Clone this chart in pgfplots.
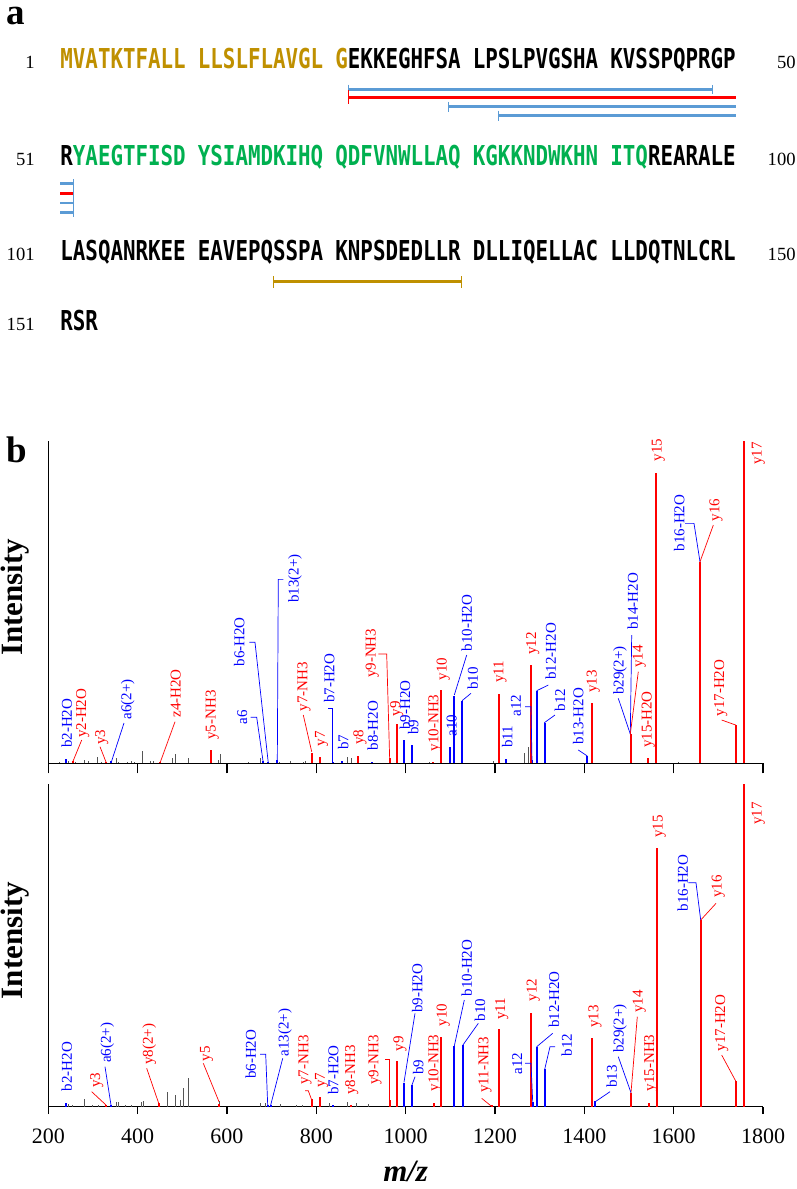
\documentclass[border=0pt]{standalone}
\usepackage{pgfplots}
\pgfplotsset{compat=1.18}
\usepackage{fontspec}
\setmainfont{Liberation Serif}
\newfontfamily\seqfont{DejaVu Sans Mono}[FakeStretch=0.76]
\definecolor{seqgold}{RGB}{191,144,0}
\definecolor{seqgreen}{RGB}{0,176,80}
\definecolor{covblue}{RGB}{91,155,213}
\definecolor{pkgray}{RGB}{85,85,85}
\newcommand\lblfont{\fontsize{7.5}{7.5}\selectfont}
% label / leader helpers: pixel positions of the reference, mapped into axis cs
\newcommand\lb[4]{\node[rotate=90,anchor=west,inner sep=0pt,text=#1,font=\lblfont] at (axis cs:{200+(#2-48.3)*2.2387},{(\base-#3)/3.225}) {#4};}
\newcommand\ld[5]{\draw[#1,line width=0.35pt] (axis cs:{200+(#2-48.3)*2.2387},{(\base-#3)/3.225}) -- (axis cs:{200+(#4-48.3)*2.2387},{(\base-#5)/3.225});}
\newcommand\ldd[7]{\draw[#1,line width=0.35pt] (axis cs:{200+(#2-48.3)*2.2387},{(\base-#3)/3.225}) -- (axis cs:{200+(#4-48.3)*2.2387},{(\base-#5)/3.225}) -- (axis cs:{200+(#6-48.3)*2.2387},{(\base-#7)/3.225});}
\newcommand\sq[3]{\node[anchor=base west,inner sep=0pt,font=\seqfont\bfseries\fontsize{13.7}{14}\selectfont] at (axis cs:#1,#2) {#3};}
\newcommand\num[4]{\node[anchor=base #1,inner sep=0pt,font=\fontsize{9.3}{9.3}\selectfont] at (axis cs:#2,#3) {#4};}

\pgfplotsset{spec/.style={scale only axis, width=357.35pt, height=161.2pt,
  xmin=200, xmax=1800, ymin=0, ymax=100, axis lines*=left, ytick=\empty,
  xtick={200,400,...,1800}, tick align=outside, clip=false,
  axis line style={line width=0.65pt}, every tick/.style={black,line width=0.65pt},
  ylabel={Intensity},
  ylabel style={font=\bfseries\fontsize{15.5}{15.5}\selectfont, at={(axis description cs:-0.0462,0.515)}, anchor=center}}}

\begin{document}
\begin{tikzpicture}[x=0.5pt,y=-0.5pt]
\path[use as bounding box] (0,0) rectangle (797,1189);

% ---------------- panel a ----------------
\begin{axis}[at={(0pt,0pt)}, anchor=north west, scale only axis, width=398.5pt, height=175pt,
  xmin=0, xmax=797, ymin=0, ymax=350, y dir=reverse, hide axis, clip=false]
\node[anchor=base west,inner sep=0pt,font=\bfseries\fontsize{18.5}{18.5}\selectfont] at (axis cs:6.5,24.5) {a};
% row 1
\num{east}{35}{68}{1}
\sq{60}{68}{\textcolor{seqgold}{MVATKTFALL}}
\sq{197.5}{68}{\textcolor{seqgold}{LLSLFLAVGL}}
\sq{335}{68}{\textcolor{seqgold}{G}EKKEGHFSA}
\sq{472.5}{68}{LPSLPVGSHA}
\sq{610}{68}{KVSSPQPRGP}
\num{east}{796}{68}{50}
% row 2
\num{east}{35}{165}{51}
\sq{60}{165}{R\textcolor{seqgreen}{YAEGTFISD}}
\sq{197.5}{165}{\textcolor{seqgreen}{YSIAMDKIHQ}}
\sq{335}{165}{\textcolor{seqgreen}{QDFVNWLLAQ}}
\sq{472.5}{165}{\textcolor{seqgreen}{KGKKNDWKHN}}
\sq{610}{165}{\textcolor{seqgreen}{ITQ}REARALE}
\num{east}{796}{165}{100}
% row 3
\num{east}{35}{260}{101}
\sq{60}{260}{LASQANRKEE}
\sq{197.5}{260}{EAVEPQSSPA}
\sq{335}{260}{KNPSDEDLLR}
\sq{472.5}{260}{DLLIQELLAC}
\sq{610}{260}{LLDQTNLCRL}
\num{east}{796}{260}{150}
% row 4
\num{east}{35}{330}{151}
\sq{60}{330}{RSR}
% coverage bars
\addplot[covblue, line width=1.35pt] coordinates {(348,89.3) (712,89.3)};
\addplot[red, line width=1.65pt] coordinates {(348,97.7) (736,97.7)};
\addplot[covblue, line width=1.35pt] coordinates {(448.7,106.7) (736,106.7)};
\addplot[covblue, line width=1.35pt] coordinates {(498.7,115.7) (736,115.7)};
\addplot[covblue, line width=0.4pt] coordinates {(348,84.5) (348,94)};
\addplot[covblue, line width=0.4pt] coordinates {(712,85) (712,93.5)};
\addplot[red, line width=0.4pt] coordinates {(348,90) (348,104)};
\addplot[covblue, line width=0.4pt] coordinates {(448.7,101.5) (448.7,112)};
\addplot[covblue, line width=0.4pt] coordinates {(498.7,110.5) (498.7,121)};
\addplot[covblue, line width=1.35pt] coordinates {(60,183.5) (73,183.5)};
\addplot[red, line width=1.35pt] coordinates {(60,193.3) (73,193.3)};
\addplot[covblue, line width=1.35pt] coordinates {(60,203) (73,203)};
\addplot[covblue, line width=1.35pt] coordinates {(60,212.5) (73,212.5)};
\addplot[covblue, line width=0.4pt] coordinates {(73,179) (73,217)};
\addplot[seqgold, line width=1.6pt] coordinates {(273.3,281.7) (461,281.7)};
\addplot[seqgold, line width=0.4pt] coordinates {(273.3,276) (273.3,288)};
\addplot[seqgold, line width=0.4pt] coordinates {(461,276) (461,288)};
\end{axis}

\node[anchor=base west,inner sep=0pt,font=\bfseries\fontsize{18.5}{18.5}\selectfont] at (6.5,462) {b};

% ---------------- panel b, top spectrum ----------------
\def\base{763.3}
\begin{axis}[spec, at={(24.15pt,-381.65pt)}, anchor=south west, xticklabels={}, major tick length=5pt]
\addplot[ycomb, no marks, pkgray, line width=0.5pt] coordinates {
(224,0.4) (245,0.6) (262,0.5) (282,1.0) (290,0.6) (309.8,2.0) (318,0.5) (351.6,1.5)
(357.5,0.4) (378,0.4) (386,0.6) (392,0.5) (410.6,3.8) (428,0.7) (436,0.6) (477.7,1.5)
(483.8,2.8) (513.6,1.8) (581,1.0) (585,2.9) (648,0.4) (676,1.8) (718,0.5) (742.8,0.6)
(771,0.5) (776,0.7) (870.5,2.0) (879.5,1.5) (1053,0.5) (1196.7,0.8) (1265,3.3) (1275,5.0) (1611,0.3)};
\addplot[ycomb, no marks, blue, line width=1pt] coordinates {
(239.6,1.2) (340.6,0.6) (681.6,0.6) (691,0.5) (712.9,1.0) (837,0.5) (857,0.7) (925.7,0.4)
(996.7,7.2) (1015.3,5.7) (1099.6,5.2) (1109,21.0) (1126.5,19.4) (1225,1.3) (1283,1.0)
(1293.8,22.5) (1311,12.6) (1407,2.3)};
\addplot[ycomb, no marks, red, line width=1pt] coordinates {
(254.6,0.6) (329,0.5) (450,0.5) (564,4.1) (790,3.3) (808,2.0) (893.6,2.3) (964.6,1.5)
(981.7,12.2) (1062,0.5) (1080,22.7) (1209.4,21.6) (1279.6,30.6) (1417,18.6) (1503.5,9.1)
(1543,1.5) (1561,90.2) (1659.6,62.4) (1739.5,11.9) (1757.4,100)};
\lb{blue}{66.7}{748.3}{b2-H2O}
\lb{red}{82.7}{738.3}{y2-H2O} \ld{red}{72.7}{762}{81.7}{740}
\lb{red}{101.7}{745}{y3} \ld{red}{106}{762}{100}{746.7}
\lb{blue}{127.7}{720}{a6(2+)} \ld{blue}{111}{763}{124}{723}
\lb{red}{175.7}{718}{z4-H2O} \ld{red}{160}{763}{175}{721.7}
\lb{red}{212.3}{740}{y5-NH3}
\lb{blue}{242.3}{725}{a6} \ldd{blue}{250.7}{717.3}{256.7}{717.3}{263.3}{763}
\lb{blue}{239.3}{666.7}{b6-H2O} \ldd{blue}{249.3}{642.3}{255}{642.3}{268.3}{763}
\lb{blue}{295}{603.3}{b13(2+)} \ldd{blue}{283.3}{579.3}{278.3}{579.3}{277.3}{763}
\lb{red}{304}{711.7}{y7-NH3} \ld{red}{303.3}{715}{311.7}{751.7}
\lb{red}{321.7}{746.7}{y7}
\lb{blue}{329.3}{703.3}{b7-H2O} \ldd{blue}{328.3}{708.3}{332.7}{708.3}{332.7}{763}
\lb{blue}{343.3}{750}{b7}
\lb{red}{360}{745}{y8}
\lb{blue}{372.7}{750.7}{b8-H2O}
\lb{red}{372.3}{678.3}{y9-NH3} \ldd{red}{378.3}{654}{386.7}{654}{389.7}{760}
\lb{red}{396.7}{716.7}{y9}
\lb{blue}{405}{730}{b9-H2O}
\lb{blue}{413.3}{735}{b9}
\lb{red}{435}{751.7}{y10-NH3}
\lb{red}{443.3}{680.7}{y10}
\lb{blue}{451.7}{736.7}{a10}
\lb{blue}{466.7}{651.7}{b10-H2O} \ld{blue}{466.7}{655}{454.3}{695}
\lb{blue}{472.7}{690}{b10} \ld{blue}{471}{693.3}{462}{700.7}
\lb{red}{500}{683.3}{y11}
\lb{blue}{507.3}{748.3}{b11}
\lb{blue}{516}{716.7}{a12} \ldd{blue}{525}{706.7}{531}{706.7}{532}{761.7}
\lb{red}{532.7}{655}{y12}
\lb{blue}{550.7}{680}{b12-H2O} \ld{blue}{548.3}{685}{536.7}{690.7}
\lb{blue}{560}{711.7}{b12} \ld{blue}{555}{715}{544.3}{722.7}
\lb{blue}{578.3}{745}{b13-H2O} \ld{blue}{578.3}{750}{587.3}{756}
\lb{red}{593.3}{693.3}{y13}
\lb{blue}{620}{695}{b29(2+)} \ld{blue}{618.3}{698.3}{630.3}{734}
\lb{blue}{632.7}{630}{b14-H2O} \ld{blue}{631.7}{635}{630.3}{734}
\lb{red}{639.3}{668.3}{y14} \ld{red}{638.3}{671.7}{630.3}{734}
\lb{red}{648.3}{748.3}{y15-H2O}
\lb{red}{658.3}{461.7}{y15}
\lb{blue}{679.3}{551.7}{b16-H2O} \ldd{blue}{685}{523.3}{694}{523.3}{700}{561.7}
\lb{red}{716}{521.7}{y16} \ld{red}{713.3}{525}{700}{561.7}
\lb{red}{720.7}{716.7}{y17-H2O} \ld{red}{721.7}{720}{735.7}{725}
\lb{red}{758.3}{465}{y17}
\end{axis}

% ---------------- panel b, bottom spectrum ----------------
\def\base{1106.7}
\begin{axis}[spec, at={(24.15pt,-553.35pt)}, anchor=south west, major tick length=3.7pt,
  /pgf/number format/assume math mode=true, /pgf/number format/1000 sep={},
  xticklabel style={font=\fontsize{11}{11}\selectfont, yshift=-4pt},
  xlabel={\textbf{\textit{m/z}}},
  xlabel style={font=\fontsize{15.5}{15.5}\selectfont, at={(axis description cs:0.5,-0.232)}, anchor=base}]
\addplot[ycomb, no marks, pkgray, line width=0.5pt] coordinates {
(244.8,0.8) (254.6,0.5) (281.5,2.3) (300,0.5) (312,0.6) (351.6,1.5) (357.5,1.5) (372,0.5)
(386.7,0.4) (409,1.5) (412.8,1.9) (467.4,4.6) (485.3,3.6) (495,2.0) (503.2,5.7) (514.4,8.8)
(582.3,1.9) (676,1.2) (685.5,1.0) (718.9,0.8) (755,0.4) (770,0.4) (828.6,1.3) (870.5,1.5)
(889.9,1.3) (916.8,0.7)};
\addplot[ycomb, no marks, blue, line width=1pt] coordinates {
(239.6,1.3) (340.6,0.6) (691,0.4) (698,0.6) (837,0.4) (996.7,7.5) (1015.3,6.7) (1109,18.8)
(1128,19.0) (1284,1.5) (1293.8,18.6) (1311,11.6) (1425,1.8)};
\addplot[ycomb, no marks, red, line width=1pt] coordinates {
(329,0.5) (447.2,1.3) (582.3,0.8) (790,2.3) (808,2.9) (877.3,0.5) (964.6,2.0) (981.7,14.2)
(1064.5,1.0) (1080,21.7) (1193.7,0.5) (1209.4,24.2) (1279.6,29.2) (1417.7,21.2) (1505,4.3)
(1543.7,1.2) (1561.7,80.3) (1661,57.9) (1739.5,8.0) (1758,100)};
\lb{blue}{66.7}{1091.7}{b2-H2O}
\lb{red}{96.7}{1088.3}{y3} \ld{red}{91.7}{1091.7}{106}{1105}
\lb{blue}{107.3}{1063.3}{a6(2+)} \ld{blue}{105}{1066.7}{111}{1105}
\lb{red}{149.3}{1065}{y8(2+)} \ld{red}{146.7}{1068.3}{158.7}{1103.3}
\lb{red}{206.7}{1061.7}{y5} \ld{red}{203.3}{1063.3}{219}{1101.7}
\lb{blue}{250.7}{1079.3}{b6-H2O} \ldd{blue}{260}{1054.3}{265.7}{1054.3}{267.7}{1105}
\lb{blue}{285}{1056.7}{a13(2+)} \ld{blue}{282.7}{1058.3}{270.7}{1105}
\lb{red}{305}{1085}{y7-NH3} \ldd{red}{305}{1090.7}{308.3}{1090.7}{311.7}{1100}
\lb{red}{321.7}{1088.3}{y7}
\lb{blue}{333.3}{1095}{b7-H2O}
\lb{red}{351.7}{1095}{y8-NH3}
\lb{red}{375}{1085}{y9-NH3} \ldd{red}{385}{1059.3}{389.7}{1059.3}{389.7}{1100}
\lb{red}{400}{1051.7}{y9}
\lb{blue}{417.3}{1013.3}{b9-H2O} \ld{blue}{415}{1013.3}{404}{1082.3}
\lb{blue}{418.3}{1075}{b9} \ld{blue}{415}{1076.7}{412}{1085}
\lb{red}{435}{1091.7}{y10-NH3}
\lb{red}{443.3}{1026.7}{y10}
\lb{blue}{466.7}{996.7}{b10-H2O} \ld{blue}{464.3}{1000}{454.3}{1046}
\lb{blue}{480}{1021.7}{b10} \ld{blue}{478.3}{1023.3}{462.7}{1045.3}
\lb{red}{485}{1093.3}{y11-NH3} \ld{red}{481.7}{1098.3}{492}{1106.7}
\lb{red}{501.7}{1020}{y11}
\lb{blue}{517.3}{1075}{a12} \ldd{blue}{525}{1063.3}{531}{1063.3}{532.7}{1101.7}
\lb{red}{533.3}{1001.7}{y12}
\lb{blue}{554}{1028.3}{b12-H2O} \ld{blue}{552.7}{1033.3}{536.7}{1046.7}
\lb{blue}{566.7}{1056.7}{b12} \ldd{blue}{555}{1046.7}{550}{1046.7}{544.7}{1069.3}
\lb{red}{595}{1028.3}{y13}
\lb{blue}{611.7}{1088.3}{b13} \ld{blue}{610}{1091.7}{595.3}{1101.7}
\lb{blue}{620}{1053.3}{b29(2+)} \ld{blue}{618.3}{1056.7}{631}{1092.7}
\lb{red}{639.3}{1013.3}{y14} \ld{red}{637.3}{1016.7}{631}{1092.7}
\lb{red}{650.7}{1091.7}{y15-NH3}
\lb{red}{659.3}{838.3}{y15}
\lb{blue}{682.7}{911.7}{b16-H2O} \ldd{blue}{688.3}{882.7}{696}{882.7}{700.7}{920}
\lb{red}{718.3}{898.3}{y16} \ld{red}{716}{903.3}{700.7}{920}
\lb{red}{721.7}{1051.7}{y17-H2O} \ld{red}{721.7}{1055}{735.7}{1081}
\lb{red}{758.3}{825}{y17}
\end{axis}
\end{tikzpicture}
\end{document}
